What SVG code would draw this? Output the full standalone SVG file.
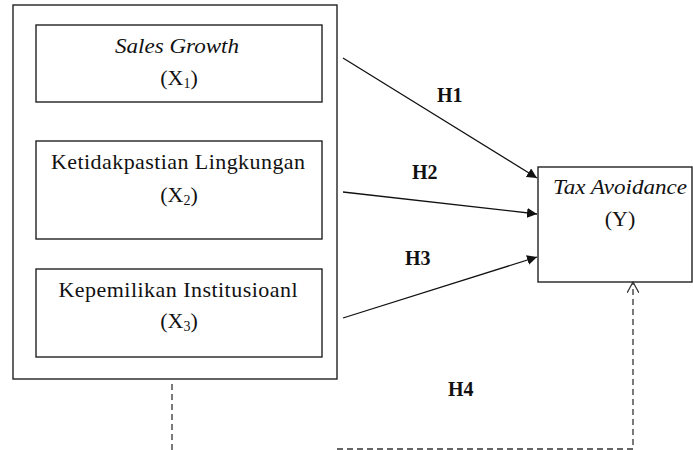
<svg xmlns="http://www.w3.org/2000/svg" width="693" height="450" viewBox="0 0 693 450">
<defs>
<style>
.box{fill:#fff;stroke:#222;stroke-width:1.4}
.t{font-family:"Liberation Serif","Times New Roman",serif;font-size:22px;fill:#111;text-anchor:middle}
.i{font-style:italic}
.h{font-family:"Liberation Serif","Times New Roman",serif;font-size:20px;font-weight:bold;fill:#111}
.sub{font-size:14px}
.ln{stroke:#111;stroke-width:1.3;fill:none}
.dash{stroke:#333;stroke-width:1.3;fill:none;stroke-dasharray:6,4}
</style>
<marker id="ah" viewBox="0 0 10 10" refX="10" refY="5" markerWidth="10" markerHeight="10" markerUnits="userSpaceOnUse" orient="auto">
<path d="M0,0 L10,5 L0,10 z" fill="#111"/>
</marker>
<marker id="oa" viewBox="0 0 12 12" refX="11" refY="6" markerWidth="12" markerHeight="12" markerUnits="userSpaceOnUse" orient="auto">
<path d="M0,0 L11,6 L0,12" fill="none" stroke="#333" stroke-width="1.3"/>
</marker>
</defs>
<rect width="693" height="450" fill="#fff"/>
<g id="group-x">
<rect class="box" x="13" y="5" width="324" height="374"/>
</g>
<g id="x1">
<rect class="box" x="36" y="25" width="286" height="77"/>
<text class="t i" x="177" y="53" textLength="124" lengthAdjust="spacingAndGlyphs">Sales Growth</text>
<text class="t" x="179" y="85">(X<tspan class="sub" dy="3">1</tspan><tspan dy="-3">)</tspan></text>
</g>
<g id="x2">
<rect class="box" x="36" y="141" width="286" height="98"/>
<text class="t" x="178" y="169" textLength="254" lengthAdjust="spacing">Ketidakpastian Lingkungan</text>
<text class="t" x="179" y="202">(X<tspan class="sub" dy="3">2</tspan><tspan dy="-3">)</tspan></text>
</g>
<g id="x3">
<rect class="box" x="36" y="269" width="286" height="88"/>
<text class="t" x="178" y="297" textLength="239" lengthAdjust="spacing">Kepemilikan Institusioanl</text>
<text class="t" x="179" y="328">(X<tspan class="sub" dy="3">3</tspan><tspan dy="-3">)</tspan></text>
</g>
<g id="y">
<rect class="box" x="538" y="167" width="154" height="115"/>
<text class="t i" x="620" y="194" textLength="134" lengthAdjust="spacingAndGlyphs">Tax Avoidance</text>
<text class="t" x="620" y="226">(Y)</text>
</g>
<g id="connectors">
<line class="ln" x1="343" y1="58" x2="537" y2="178" marker-end="url(#ah)"/>
<line class="ln" x1="343" y1="192" x2="537" y2="214" marker-end="url(#ah)"/>
<line class="ln" x1="343" y1="318" x2="537" y2="257" marker-end="url(#ah)"/>
<line class="dash" x1="172" y1="384" x2="172" y2="450"/>
<polyline class="dash" points="337,449 633,449 633,282" marker-end="url(#oa)"/>
<text class="h" x="437" y="102">H1</text>
<text class="h" x="412" y="179">H2</text>
<text class="h" x="405" y="265">H3</text>
<text class="h" x="448" y="396">H4</text>
</g>
</svg>
